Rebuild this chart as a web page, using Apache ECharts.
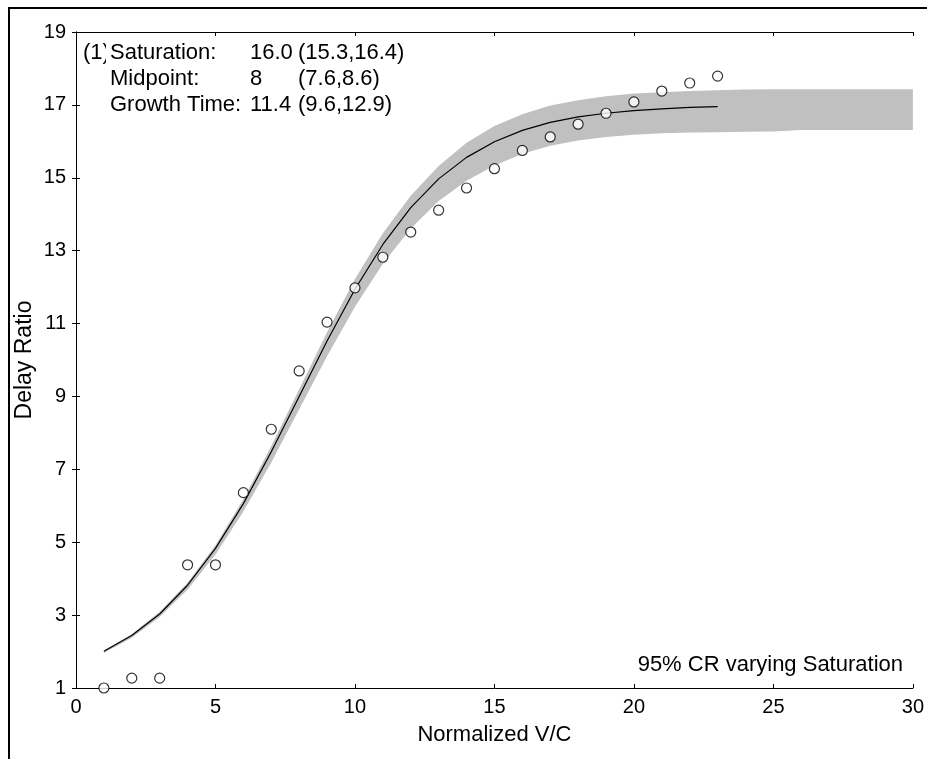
<!DOCTYPE html>
<html>
<head>
<meta charset="utf-8">
<title>Delay Ratio vs Normalized V/C</title>
<script src="https://cdn.jsdelivr.net/npm/echarts@6/dist/echarts.min.js"></script>
<style>
  html, body { margin: 0; padding: 0; background: #fff; }
  #chart { width: 927px; height: 759px; }
</style>
</head>
<body>
<div id="chart"></div>
<script>
// Observed delay ratios at each normalized V/C step
const vcValues = [1, 2, 3, 4, 5, 6, 7, 8, 9, 10, 11, 12, 13, 14, 15, 16, 17, 18, 19, 20, 21, 22, 23];
const observedDelay = [1.00, 1.27, 1.27, 4.38, 4.38, 6.36, 8.10, 9.70, 11.04, 11.98, 12.82, 13.51,
  14.11, 14.72, 15.25, 15.75, 16.12, 16.47, 16.77, 17.08, 17.38, 17.60, 17.79];

// Fitted growth curve at the same V/C steps
const fittedDelay = [2.01, 2.44, 3.03, 3.82, 4.83, 6.06, 7.48, 9.00, 10.52, 11.94, 13.17, 14.18,
  14.97, 15.56, 15.99, 16.30, 16.52, 16.67, 16.77, 16.84, 16.89, 16.93, 16.95];

// 95% credible region when the saturation level varies
const bandVC = [1, 2, 3, 4, 5, 6, 7, 8, 9, 10, 11, 12, 13, 14, 15, 16, 17, 18, 19, 20,
  21, 22, 23, 24, 25, 26, 27, 28, 29, 30];
const bandLower = [1.96, 2.38, 2.95, 3.70, 4.66, 5.84, 7.19, 8.65, 10.10, 11.46, 12.64, 13.61,
  14.36, 14.92, 15.34, 15.66, 15.88, 16.02, 16.12, 16.18, 16.22, 16.24, 16.25, 16.26, 16.27,
  16.31, 16.31, 16.31, 16.31, 16.31];
const bandUpper = [2.03, 2.48, 3.09, 3.89, 4.92, 6.18, 7.64, 9.20, 10.76, 12.22, 13.48, 14.51,
  15.32, 15.96, 16.42, 16.74, 16.98, 17.13, 17.24, 17.31, 17.35, 17.38, 17.40, 17.42, 17.43,
  17.43, 17.43, 17.43, 17.43, 17.43];

// Axis ticks
const xTicks = [0, 5, 10, 15, 20, 25, 30];
const yTicks = [1, 3, 5, 7, 9, 11, 13, 15, 17, 19];

// Fit summary lines: label, estimate, interval
const fitLabels = ['Saturation:', 'Midpoint:', 'Growth Time:'];
const fitEstimates = ['16.0', '8', '11.4'];
const fitIntervals = ['(15.3,16.4)', '(7.6,8.6)', '(9.6,12.9)'];

const FONT = '"Liberation Sans", Arial, sans-serif';

const chart = echarts.init(document.getElementById('chart'), null, { renderer: 'canvas' });

const xMin = xTicks[0], xMax = xTicks[xTicks.length - 1];
const yMin = yTicks[0], yMax = yTicks[yTicks.length - 1];
const xStep = xTicks[1] - xTicks[0];
const yStep = yTicks[1] - yTicks[0];

const axisLine = { show: true, lineStyle: { color: '#000', width: 1 } };
const axisTick = { show: true, inside: true, length: 4, lineStyle: { color: '#000', width: 1 } };

// Shaded band: one polygon, upper edge left to right then lower edge back
function renderBand(params, api) {
  if (params.dataIndex !== 0) return null;
  const pts = [];
  for (let i = 0; i < bandVC.length; i++) pts.push(api.coord([bandVC[i], bandUpper[i]]));
  for (let i = bandVC.length - 1; i >= 0; i--) pts.push(api.coord([bandVC[i], bandLower[i]]));
  const cs = params.coordSys;
  return {
    type: 'polygon',
    shape: { points: pts },
    style: { fill: '#c0c0c0', stroke: null },
    clipPath: { type: 'rect', shape: { x: cs.x, y: cs.y, width: cs.width, height: cs.height } }
  };
}

const summaryText = [];
const rowY = [54, 80, 106];
fitLabels.forEach((lab, i) => {
  summaryText.push({
    type: 'text', left: i === 0 ? 106 : 110, top: rowY[i] - 12, z: 20,
    style: i === 0
      ? { text: lab, font: '22px ' + FONT, fill: '#000', backgroundColor: '#fff', padding: [0, 0, 0, 4] }
      : { text: lab, font: '22px ' + FONT, fill: '#000' }
  });
  summaryText.push({
    type: 'text', left: 250, top: rowY[i] - 12, z: 20,
    style: { text: fitEstimates[i], font: '22px ' + FONT, fill: '#000' }
  });
  summaryText.push({
    type: 'text', left: 298, top: rowY[i] - 12, z: 20,
    style: { text: fitIntervals[i], font: '22px ' + FONT, fill: '#000' }
  });
});

const option = {
  animation: false,
  backgroundColor: '#fff',
  grid: { left: 76, right: 12, top: 32, bottom: 71, containLabel: false },
  xAxis: [
    {
      type: 'value', position: 'bottom', min: xMin, max: xMax, interval: xStep,
      name: 'Normalized V/C', nameLocation: 'middle', nameGap: 36,
      nameTextStyle: { fontFamily: FONT, fontSize: 22, color: '#000' },
      axisLine, axisTick,
      axisLabel: { fontFamily: FONT, fontSize: 20, color: '#000', margin: 9 },
      splitLine: { show: false }
    },
    {
      type: 'value', position: 'top', min: xMin, max: xMax, interval: xStep,
      axisLine, axisTick, axisLabel: { show: false }, splitLine: { show: false }
    }
  ],
  yAxis: [
    {
      type: 'value', position: 'left', min: yMin, max: yMax, interval: yStep,
      name: 'Delay Ratio', nameLocation: 'middle', nameGap: 40, nameMoveOverlap: false,
      nameTextStyle: { fontFamily: FONT, fontSize: 23, color: '#000' },
      axisLine, axisTick,
      axisLabel: { fontFamily: FONT, fontSize: 20, color: '#000', margin: 10 },
      splitLine: { show: false }
    },
    {
      type: 'value', position: 'right', min: yMin, max: yMax, interval: yStep,
      axisLine, axisTick, axisLabel: { show: false }, splitLine: { show: false }
    }
  ],
  series: [
    {
      name: '95% CR', type: 'custom', silent: true,
      renderItem: renderBand,
      data: bandVC.map((x, i) => [x, bandLower[i], bandUpper[i]]),
      encode: { x: 0, y: [1, 2] },
      z: 1
    },
    {
      name: 'Fit', type: 'line', symbol: 'none',
      lineStyle: { color: '#000', width: 1.2 },
      data: vcValues.map((x, i) => [x, fittedDelay[i]]),
      z: 3
    },
    {
      name: 'Observed', type: 'scatter', symbol: 'circle', symbolSize: 10,
      itemStyle: { color: '#fff', borderColor: '#000', borderWidth: 1.2 },
      data: vcValues.map((x, i) => [x, observedDelay[i]]),
      z: 4
    }
  ],
  graphic: [
    {
      type: 'rect', z: 0, silent: true,
      shape: { x: 9, y: 8, width: 1000, height: 1000 },
      style: { fill: null, stroke: '#000', lineWidth: 2 }
    },
    {
      type: 'text', left: 83, top: rowY[0] - 12, z: 19,
      style: { text: '(1)', font: '22px ' + FONT, fill: '#000' }
    },
    ...summaryText,
    {
      type: 'text', right: 24, top: 654, z: 20,
      style: { text: '95% CR varying Saturation', font: '22px ' + FONT, fill: '#000' }
    }
  ]
};

chart.setOption(option);
</script>
</body>
</html>
